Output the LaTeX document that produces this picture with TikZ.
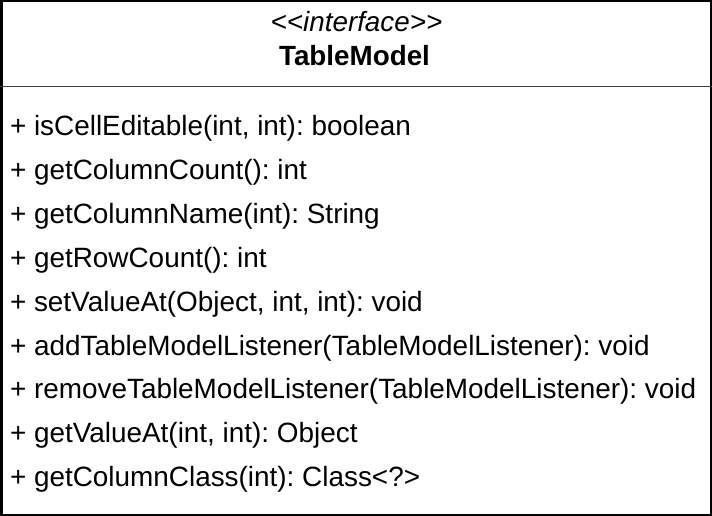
\documentclass[tikz,border=0pt]{standalone}
\usepackage{fontspec}
\setmainfont{Liberation Sans}[Ligatures=TeXOff]
\frenchspacing
\usetikzlibrary{positioning}

\begin{document}
\begin{tikzpicture}[x=1pt, y=-1pt, every node/.style={inner sep=0pt, outer sep=0pt}]
    \tikzset{method/.style={anchor=base west, font=\fontsize{27.9}{30}\selectfont},
             header/.style={anchor=base, font=\fontsize{27.8}{30}\selectfont}}
    \useasboundingbox (0,0) rectangle (712,516);
    % class box
    \coordinate (tl) at (1.25,1.25);
    \coordinate (br) at (710.75,514.75);
    \coordinate (dl) at (0,86.5);
    \coordinate (dr) at (712,86.5);
    \draw[line width=2.5pt] (tl) rectangle (br);
    \draw[line width=1.5pt, black!75] (dl) -- (dr);
    % header
    \node[header] (stereo) at (356.5,32) {\itshape <<interface>>};
    \node[header] (name) at (354.5,65.5) {\bfseries TableModel};
    % operations
    \node[method] (m1) at (10,135.5) {+ isCellEditable(int, int): boolean};
    \node[method] (m2) at (10,179.4) {+ getColumnCount(): int};
    \node[method] (m3) at (10,223.3) {+ getColumnName(int): String};
    \node[method] (m4) at (10,267.2) {+ getRowCount(): int};
    \node[method] (m5) at (10,311.1) {+ setValueAt(Object, int, int): void};
    \node[method] (m6) at (10,355) {+ addTableModelListener(TableModelListener): void};
    \node[method] (m7) at (10,398.9) {+ removeTableModelListener(TableModelListener): void};
    \node[method] (m8) at (10,442.8) {+ getValueAt(int, int): Object};
    \node[method] (m9) at (10,486.7) {+ getColumnClass(int): Class<?>};
\end{tikzpicture}
\end{document}
